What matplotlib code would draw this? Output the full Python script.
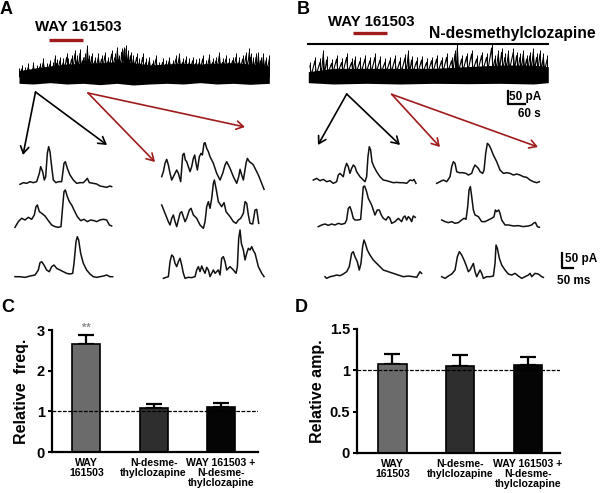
import numpy as np
import matplotlib
matplotlib.use("Agg")
import matplotlib.pyplot as plt

plt.rcParams['font.family'] = ['Liberation Sans', 'DejaVu Sans']
plt.rcParams['font.weight'] = 'bold'

W, H = 600, 493

# ---- bar chart data (C, D) ----
categories = ["WAY\n161503", "N-desme-\nthylclozapine", "WAY 161503 +\nN-desme-\nthylclozapine"]
freq_mean = [2.65, 1.07, 1.10]
freq_err = [0.22, 0.11, 0.11]
amp_mean = [1.08, 1.05, 1.07]
amp_err = [0.12, 0.13, 0.09]
bar_colors = ['#6b6b6b', '#2e2e2e', '#050505']

# ---- continuous recordings (A, B): dense body + spike tops ----
long_a_t = [0, 43, 93, 143, 193, 243, 293, 343, 393, 443, 493, 543, 593, 643, 693, 751]
long_a_top = [38, 45, 52, 58, 60, 62, 65, 62, 55, 58, 60, 58, 60, 62, 58, 52]
long_a_low = [0, -2, 2, -2, 0, -4, 0, -5, -2, 0, -2, 2, -2, 0, -3, 0]
long_a_spike_t = [0, 8, 18, 28, 38, 43, 53, 63, 73, 83, 93, 103, 108, 113, 123, 133, 143, 148,
                  158, 168, 175, 183, 191, 198, 205, 211, 218, 228, 238, 248, 258, 268, 278,
                  288, 295, 301, 308, 315, 321, 328, 335, 343, 353, 361, 371, 381, 391, 401,
                  411, 421, 431, 441, 451, 461, 471, 481, 491, 501, 511, 521, 531, 541, 551,
                  561, 571, 581, 591, 601, 611, 621, 631, 641, 651, 661, 671, 681, 691, 695,
                  703, 711, 718, 725, 733, 741, 751]
long_a_spike_top = [45, 55, 50, 60, 45, 65, 55, 62, 75, 60, 70, 65, 85, 72, 80, 75, 90, 75,
                    85, 100, 85, 102, 80, 90, 115, 85, 92, 80, 90, 85, 95, 80, 100,
                    90, 110, 85, 105, 110, 115, 100, 95, 85, 90, 75, 90, 75, 80, 70,
                    85, 65, 75, 70, 80, 70, 85, 92, 75, 82, 75, 80, 72, 75, 85,
                    70, 88, 75, 80, 95, 75, 85, 75, 80, 90, 78, 85, 95, 105, 90,
                    80, 90, 95, 80, 90, 80, 85]

long_b_t = [0, 75, 175, 275, 375, 475, 575, 675, 720]
long_b_top = [35, 45, 45, 45, 45, 50, 55, 55, 50]
long_b_low = [2, -2, 0, -2, 0, -1, 0, -2, 2]
long_b_spike_t = [5, 20, 35, 45, 55, 70, 85, 100, 115, 130, 140, 155, 170, 185, 200, 215, 230,
                  245, 260, 275, 290, 300, 310, 325, 340, 355, 370, 385, 400, 415, 430, 440,
                  447, 460, 475, 490, 505, 520, 535, 550, 560, 570, 580, 590, 600, 615, 625,
                  635, 645, 655, 665, 675, 685, 695, 705, 717]
long_b_spike_top = [65, 80, 75, 100, 82, 72, 85, 75, 90, 75, 82, 78, 85, 80, 90, 82, 75,
                    80, 85, 78, 88, 100, 82, 78, 82, 75, 80, 85, 80, 90, 80, 100,
                    118, 85, 92, 100, 85, 95, 90, 118, 85, 100, 105, 90, 100, 105, 95,
                    90, 100, 85, 95, 105, 90, 100, 90, 85]

# ---- single-sweep traces (time, amplitude) ----
a_l1 = [(0, -1), (10, 4), (20, 2), (30, 7), (40, 4), (50, 7), (58, 32), (62, 52), (68, 37),
        (73, 12), (77, 22), (82, 92), (86, 112), (90, 97), (95, 52), (100, 12), (108, 4),
        (115, 7), (125, 7), (132, 62), (136, 67), (142, 47), (150, 27), (160, 12), (170, 2),
        (180, 4), (190, 4), (198, 12), (202, 17), (208, 4), (220, 2), (230, 0), (240, -6),
        (250, -8), (260, -10), (270, -6), (275, -8)]
a_l2 = [(0, 0), (10, 17), (20, 27), (30, 22), (40, 30), (50, 24), (58, 37), (63, 62), (67, 67),
        (73, 47), (80, 42), (90, 34), (100, 20), (110, 7), (120, 2), (130, 0), (138, 2),
        (143, 62), (147, 107), (151, 112), (157, 92), (163, 77), (170, 67), (177, 52),
        (187, 32), (197, 20), (207, 24), (217, 17), (227, 22), (237, 20), (245, 17),
        (255, 22), (265, 24), (275, 22), (283, 7), (290, 4)]
a_l3 = [(0, 0), (15, 0), (30, -2), (45, 2), (60, 5), (70, 20), (75, 42), (80, 45), (87, 35),
        (95, 20), (103, 15), (110, 30), (117, 35), (125, 25), (135, 20), (145, 15), (155, 10),
        (165, 8), (173, 10), (177, 40), (183, 105), (187, 120), (191, 110), (197, 70),
        (205, 40), (215, 20), (225, 8), (235, 0), (245, -2), (255, 0), (265, 2), (275, 5),
        (285, 0), (293, 0)]
a_r1 = [(0, 10), (5, 25), (10, 50), (15, 62), (20, 45), (25, 20), (30, 0), (35, 10), (40, 20),
        (45, 30), (50, 20), (57, -5), (63, 75), (67, 80), (71, 60), (75, 55), (80, 40),
        (85, 25), (90, 40), (95, 65), (99, 75), (103, 50), (107, 30), (113, 70), (118, 80),
        (122, 75), (127, 110), (130, 112), (135, 95), (140, 85), (145, 70), (155, 50),
        (165, 20), (175, 0), (183, 20), (190, 45), (195, 55), (205, 35), (215, 10),
        (225, -10), (231, 10), (235, 32), (240, 15), (245, 0), (253, 50), (257, 65),
        (263, 55), (270, 50), (275, 45), (280, 35), (290, 15), (300, -10), (307, -28)]
a_r2 = [(0, 60), (10, 35), (20, 10), (25, 0), (30, 20), (35, 30), (40, 10), (45, -5), (50, 15),
        (55, 35), (60, 40), (65, 25), (70, 10), (75, 20), (83, 45), (88, 50), (95, 30),
        (105, 20), (115, 0), (125, -10), (130, 10), (135, 55), (140, 70), (145, 50), (150, 80),
        (155, 125), (158, 135), (163, 110), (170, 70), (180, 55), (187, 67), (193, 40),
        (205, 25), (215, 10), (223, 5), (230, 15), (237, 20), (245, 35), (250, 70), (255, 65),
        (260, 30), (265, 5), (273, 3), (280, 45), (285, 47), (291, 5)]
a_r3 = [(5, 0), (20, 5), (25, 50), (30, 70), (35, 65), (40, 45), (45, 35), (50, 50), (55, 60),
        (60, 40), (65, 15), (70, 0), (80, 3), (90, 2), (100, 5), (105, 25), (110, 35),
        (115, 20), (120, 37), (125, 25), (130, 15), (135, 33), (140, 25), (145, 5), (155, 25),
        (160, 15), (170, 25), (175, 10), (180, 60), (185, 65), (190, 50), (195, 25), (205, 35),
        (215, 25), (223, 15), (227, 35), (231, 120), (235, 145), (239, 105), (245, 85),
        (250, 55), (255, 75), (260, 90), (265, 85), (270, 95), (275, 83), (280, 75),
        (285, 55), (290, 35), (300, 15), (307, 5)]
b_l1 = [(0, 5), (10, 10), (20, 3), (30, 7), (40, 0), (50, 3), (60, -5), (70, 0), (75, 20),
        (80, 25), (85, 20), (90, 15), (95, 40), (100, 55), (105, 45), (110, 25), (115, 40),
        (120, 50), (125, 45), (130, 30), (140, 15), (150, 5), (155, 0), (160, 15), (164, 75),
        (168, 105), (172, 95), (176, 60), (182, 45), (190, 30), (200, 15), (210, 5), (220, 3),
        (230, 0), (240, -3), (250, -2), (260, -3), (270, -3), (280, -5), (290, 5), (298, 3),
        (302, 7), (308, -5)]
b_l2 = [(0, -5), (10, 0), (20, 3), (30, -1), (40, 3), (50, 0), (60, 5), (70, 2), (80, 5),
        (85, 15), (90, 50), (95, 55), (100, 40), (105, 20), (110, 15), (120, 15), (127, 17),
        (131, 65), (135, 115), (139, 117), (145, 100), (150, 80), (160, 60), (170, 30),
        (177, 45), (183, 45), (189, 30), (195, 20), (203, 15), (210, 25), (215, 20), (220, 5),
        (230, 10), (240, 20), (245, 15), (250, 10), (255, 23), (260, 27), (265, 15), (270, 25),
        (275, 20), (280, 10), (285, 27), (291, 23)]
b_l3 = [(5, 0), (10, -5), (20, 0), (30, 2), (40, 5), (50, 3), (60, 8), (70, 15), (78, 30),
        (85, 70), (90, 75), (95, 60), (102, 45), (108, 20), (113, 40), (118, 90), (122, 110),
        (126, 100), (132, 80), (140, 65), (150, 50), (165, 35), (180, 20), (195, 15),
        (210, 10), (225, 5), (240, 0), (255, 2), (270, 0), (280, -2), (290, 15), (295, 10)]
b_r1 = [(0, -5), (10, 0), (20, 5), (30, 0), (40, 15), (45, 45), (50, 60), (55, 55), (60, 30),
        (68, 27), (78, 27), (88, 25), (95, 20), (105, 25), (110, 40), (115, 50), (120, 45),
        (125, 40), (130, 30), (138, 25), (142, 35), (147, 85), (152, 115), (157, 110),
        (162, 100), (170, 80), (180, 60), (190, 35), (200, 25), (210, 27), (220, 25),
        (230, 20), (240, 23), (250, 20), (260, 15), (270, 13), (280, 5), (290, 0), (300, -3),
        (308, 0)]
b_r2 = [(0, 13), (10, 8), (20, 5), (30, 8), (40, 3), (50, 5), (60, 13), (67, 18), (73, 15),
        (78, 53), (82, 103), (86, 113), (90, 83), (95, 43), (100, 28), (110, 23), (120, 8),
        (130, 8), (140, 13), (150, 18), (157, 23), (161, 43), (165, 38), (171, 43), (175, 33),
        (180, 13), (190, -2), (200, -2), (215, -5), (230, -4), (245, -7), (260, -5),
        (270, -2), (275, 3), (281, 6), (287, -7), (293, -9)]
b_r3 = [(0, 0), (10, -5), (20, 2), (30, 8), (40, 20), (47, 60), (53, 75), (60, 65), (67, 50),
        (73, 35), (80, 15), (85, 20), (90, 30), (95, 40), (100, 15), (105, 0), (110, 10),
        (115, 20), (120, 10), (125, -5), (135, 0), (145, 0), (155, 2), (160, 40), (163, 95),
        (167, 85), (173, 55), (180, 35), (190, 20), (200, 8), (210, 5), (220, 10), (230, 2),
        (240, -5), (250, 0), (260, 5), (265, 10), (270, 0), (280, 10), (290, 8), (300, 0),
        (305, -2)]

RED = '#a01c1c'

fig = plt.figure(figsize=(W / 100, H / 100), dpi=100)


def px_axes(left, top, width, height):
    return fig.add_axes([left / W, 1 - (top + height) / H, width / W, height / H])


def draw_long(left, width, body_t, top, low, spike_t, spike_top):
    ax = px_axes(left, 40, width, 140 / 3)
    ax.fill_between(body_t, low, top, color='black', lw=0)
    ax.vlines(spike_t, 20, spike_top, color='black', lw=0.7)
    # jagged edge between spikes: tooth tops at the spikes, troughs down in the body
    st = np.asarray(spike_t, dtype=float)
    trough_t = st + 4
    trough = np.interp(trough_t, body_t, top) - 12
    zx = np.column_stack([st, trough_t]).ravel()
    zy = np.column_stack([np.asarray(spike_top, dtype=float) - 12, trough]).ravel()
    ax.plot(zx, zy, color='black', lw=0.8)
    ax.set_xlim(0, width * 3)
    ax.set_ylim(-10, 130)
    ax.axis('off')


def draw_mini(trace, left, baseline):
    ax = px_axes(left, baseline - 140 / 3, 110, 175 / 3)
    t, a = zip(*trace)
    ax.plot(t, a, color='#111111', lw=1.1, clip_on=False)
    ax.set_xlim(0, 330)
    ax.set_ylim(-35, 140)
    ax.axis('off')


draw_long(19, 251, long_a_t, long_a_top, long_a_low, long_a_spike_t, long_a_spike_top)
draw_long(308.3, 240, long_b_t, long_b_top, long_b_low, long_b_spike_t, long_b_spike_top)

for tr, left, base in [(a_l1, 20, 184), (a_l2, 15, 227.3), (a_l3, 15, 276.7),
                       (a_r1, 161.7, 180), (a_r2, 161.7, 225), (a_r3, 161.7, 278.3),
                       (b_l1, 313.3, 181.7), (b_l2, 318.3, 225), (b_l3, 323.3, 276.7),
                       (b_r1, 436.7, 181.7), (b_r2, 441.7, 224.3), (b_r3, 441.7, 276.7)]:
    draw_mini(tr, left, base)


def bar_panel(ax, means, errs, ylim, yticks, yticklabels, ylabel, label_x):
    x = np.arange(len(means))
    ax.bar(x, means, width=0.42, color=bar_colors, edgecolor='black', linewidth=1.2, zorder=2)
    ax.errorbar(x, means, yerr=[np.zeros(len(errs)), errs], fmt='none', ecolor='black',
                elinewidth=1.6, capsize=6, capthick=1.6, zorder=1)
    ax.axhline(1, color='black', lw=0.9, ls=(0, (3, 1.2)), zorder=3)
    ax.set_ylim(*ylim)
    ax.set_yticks(yticks)
    ax.set_yticklabels(yticklabels, fontsize=10.5, fontweight='bold')
    ax.set_xticks(x)
    ax.set_xticklabels(categories, fontsize=7.6, fontweight='bold', linespacing=1.0,
                       va='top')
    ax.tick_params(axis='x', length=0, pad=4)
    ax.tick_params(axis='y', length=3, width=1.5, pad=2)
    for s in ['top', 'right']:
        ax.spines[s].set_visible(False)
    for s in ['left', 'bottom']:
        ax.spines[s].set_linewidth(1.6)
    ax.set_ylabel(ylabel, fontsize=11.5, fontweight='bold')
    ax.yaxis.set_label_coords(label_x, 0.5)


axc = px_axes(52, 330, 206, 122)
bar_panel(axc, freq_mean, freq_err, (0, 3), [0, 1, 2, 3], ['0', '1', '2', '3'],
          'Relative  freq.', -0.11)
axc.set_xlim(-0.51, 2.55)
axc.text(0, freq_mean[0] + freq_err[0] + 0.07, '**', ha='center', va='bottom',
         fontsize=8, color='#8a8a8a')

axd = px_axes(357, 329, 203, 124)
bar_panel(axd, amp_mean, amp_err, (0, 1.5), [0, 0.5, 1, 1.5], ['0', '0.5', '1', '1.5'],
          'Relative amp.', -0.16)
axd.set_xlim(-0.52, 2.47)

# ---- overlay for labels, bars, arrows, scale bars ----
ov = fig.add_axes([0, 0, 1, 1])
ov.set_xlim(0, W)
ov.set_ylim(H, 0)
ov.axis('off')
ov.patch.set_visible(False)

for s, x, y in [('A', 0, 9), ('B', 297, 9), ('C', 1, 308), ('D', 295, 308)]:
    ov.text(x, y, s, fontsize=13, fontweight='bold', ha='left', va='center')

ov.text(78, 26.7, 'WAY 161503', fontsize=10.8, fontweight='bold', ha='center', va='center')
ov.plot([49.3, 82.7], [40, 40], color=RED, lw=2.4, solid_capstyle='butt')
ov.text(371, 21.7, 'WAY 161503', fontsize=10.8, fontweight='bold', ha='center', va='center')
ov.plot([352.7, 387.3], [33.3, 33.3], color=RED, lw=2.4, solid_capstyle='butt')
ov.text(512.5, 33.3, 'N-desmethylclozapine', fontsize=11.3, fontweight='bold',
        ha='center', va='center')
ov.plot([308.3, 548.3], [44, 44], color='black', lw=1.5)

arrow = dict(arrowstyle='->,head_length=0.5,head_width=0.3', lw=1.2, shrinkA=0, shrinkB=0)
for start, head, col in [((35.5, 92), (23, 155), 'black'), ((35.5, 92), (107, 145), 'black'),
                         ((88, 93), (155, 162), RED), ((88, 93), (245, 127), RED),
                         ((346.7, 94), (318, 145), 'black'), ((346.7, 94), (400, 145), 'black'),
                         ((391.7, 94.3), (440, 147), RED), ((391.7, 94.3), (538, 147), RED)]:
    ov.annotate('', xy=head, xytext=start, arrowprops=dict(arrow, color=col))

# scale bars
ov.plot([507.5, 507.5, 525], [91, 104, 104], color='black', lw=1.6)
ov.text(509, 97, '50 pA', fontsize=8.5, fontweight='bold', ha='left', va='center')
ov.text(529, 114, '60 s', fontsize=8.5, fontweight='bold', ha='center', va='center')
ov.plot([561.7, 561.7, 573], [253, 268, 268], color='black', lw=1.6)
ov.text(565, 259, '50 pA', fontsize=8.5, fontweight='bold', ha='left', va='center')
ov.text(557, 281, '50 ms', fontsize=8.5, fontweight='bold', ha='left', va='center')

fig.savefig('out.png', dpi=100)
